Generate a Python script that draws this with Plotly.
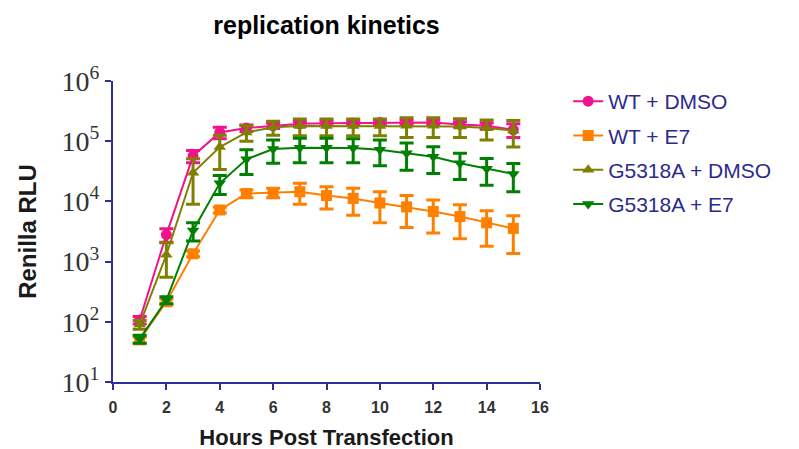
#!/usr/bin/env python
# coding: utf-8

import plotly.graph_objects as go

# hours post transfection
hours = [1, 2, 3, 4, 5, 6, 7, 8, 9, 10, 11, 12, 13, 14, 15]

# mean Renilla RLU and SD for each condition
wt_dmso = [107, 2800, 57000, 140000, 165000, 180000, 195000, 198000, 200000, 205000, 205000, 205000, 190000, 180000, 155000]
wt_dmso_sd = [15, 700, 13000, 30000, 20000, 18000, 18000, 18000, 18000, 18000, 18000, 18000, 20000, 22000, 40000]

wt_e7 = [50, 215, 1350, 7200, 13500, 14000, 14500, 12500, 11200, 9400, 8100, 6800, 5600, 4400, 3560]
wt_e7_sd = [6, 25, 150, 800, 2000, 2500, 5500, 5000, 5300, 5000, 4400, 3800, 3200, 2600, 2200]

g5318a_dmso = [90, 1300, 30000, 80000, 140000, 170000, 178000, 178000, 178000, 178000, 180000, 180000, 175000, 165000, 150000]
g5318a_dmso_sd = [15, 750, 21000, 46000, 40000, 45000, 55000, 55000, 55000, 55000, 65000, 65000, 60000, 60000, 70000]

g5318a_e7 = [52, 230, 3300, 20000, 50000, 74000, 78000, 78000, 77000, 72000, 63000, 55000, 43000, 35000, 28500]
g5318a_e7_sd = [8, 30, 1100, 7000, 22000, 31000, 34000, 34000, 33000, 33000, 30000, 26000, 20000, 16500, 14000]

y_tickvals = [10, 100, 1000, 10000, 100000, 1000000]
y_ticktext = ['10<sup>1</sup>', '10<sup>2</sup>', '10<sup>3</sup>', '10<sup>4</sup>', '10<sup>5</sup>', '10<sup>6</sup>']
x_tickvals = [0, 2, 4, 6, 8, 10, 12, 14, 16]

axis_color = '#2E3192'
sans = 'Arial, Liberation Sans'

series = [
    ('WT + DMSO', wt_dmso, wt_dmso_sd, '#F0148C', 'circle'),
    ('WT + E7', wt_e7, wt_e7_sd, '#FF8000', 'square'),
    ('G5318A + DMSO', g5318a_dmso, g5318a_dmso_sd, '#808000', 'triangle-up'),
    ('G5318A + E7', g5318a_e7, g5318a_e7_sd, '#008000', 'triangle-down'),
]

data = []

for i, (name, y, sd, color, symbol) in enumerate(series):
    data.append(go.Scatter(x=hours, y=y,
                           mode='lines+markers',
                           name=name,
                           legendgroup=str(i),
                           line=dict(color=color, width=2),
                           marker=dict(color=color, symbol=symbol, size=11),
                           error_y=dict(type='data', array=sd, visible=True,
                                        color=color, thickness=3, width=7)))

# the page adds an 8px body margin, so margins are 8px less than the target
layout = dict(title=dict(text='<b>replication kinetics</b>', x=0.5, xref='paper',
                         y=0.962, yanchor='middle',
                         font=dict(family=sans, size=25, color='black')),
              width=799, height=449,
              margin=dict(l=105, r=267, t=73, b=75),
              plot_bgcolor='white', paper_bgcolor='white',
              showlegend=True,
              legend=dict(x=1.066, y=1.0, xanchor='left', yanchor='top',
                          traceorder='grouped', tracegroupgap=4, itemwidth=30,
                          font=dict(family=sans, size=21, color='#2B2B8C')),
              xaxis=dict(title=dict(text='<b>Hours Post Transfection</b>', standoff=14,
                                    font=dict(family=sans, size=22, color='#1a1a1a')),
                         range=[0, 16], tickvals=x_tickvals,
                         ticks='outside', ticklen=6, tickwidth=2, tickcolor=axis_color,
                         ticklabelstandoff=4,
                         showline=True, linecolor=axis_color, linewidth=2,
                         showgrid=False, zeroline=False,
                         tickfont=dict(family=sans, size=16, color='#333333', weight='bold')),
              yaxis=dict(title=dict(text='<b>Renilla RLU</b>', standoff=18,
                                    font=dict(family=sans, size=24, color='#1a1a1a')),
                         type='log', range=[1, 6],
                         tickvals=y_tickvals, ticktext=y_ticktext,
                         ticks='outside', ticklen=6, tickwidth=2, tickcolor=axis_color,
                         showline=True, linecolor=axis_color, linewidth=2,
                         showgrid=False, zeroline=False,
                         tickfont=dict(family='Liberation Serif, Times New Roman', size=28, color='#333333')))

fig = go.Figure()

fig.update_layout(layout)

for i in data:
    fig.add_trace(i)

fig.write_html("out.html")
